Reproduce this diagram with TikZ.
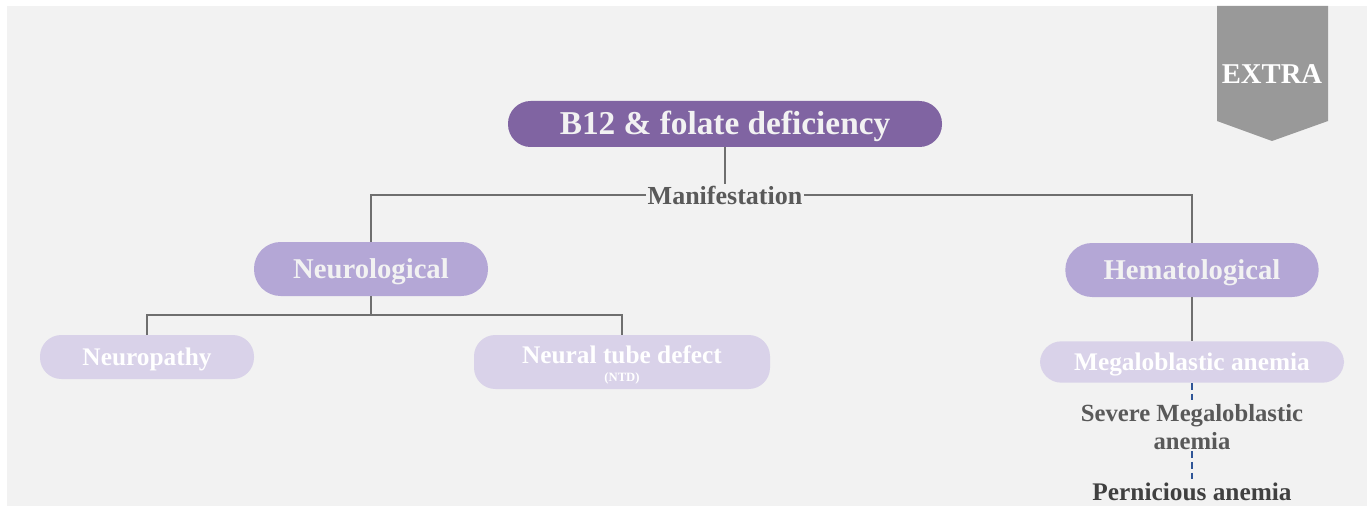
\documentclass[tikz,border=0pt]{standalone}
\usepackage{fontspec}
\setmainfont{Liberation Serif}
\usetikzlibrary{positioning}
\definecolor{bgrey}{HTML}{F2F2F2}
\definecolor{rootpurple}{HTML}{8064A2}
\definecolor{midlav}{HTML}{B4A7D6}
\definecolor{lightlav}{HTML}{D9D2E9}
\definecolor{linegrey}{HTML}{6F6F6F}
\definecolor{txtgrey}{HTML}{595959}
\definecolor{dashblue}{HTML}{2F5597}
\definecolor{bannergrey}{HTML}{999999}

\begin{document}
\begin{tikzpicture}[x=0.75pt, y=-0.75pt,
  pill/.style={rectangle, inner sep=0pt, align=center, text=bgrey,
               text depth=0pt, font=\bfseries},
  rootpill/.style={pill, fill=rootpurple, minimum width=325.5pt,
                   minimum height=34.5pt, rounded corners=17pt,
                   text height=16.5pt,
                   font=\fontsize{25}{28}\selectfont\bfseries},
  midpill/.style={pill, fill=midlav, minimum height=40.5pt,
                  rounded corners=20pt, text height=14.2pt,
                  font=\fontsize{21.5}{24}\selectfont\bfseries},
  leafpill/.style={pill, fill=lightlav, rounded corners=16pt, text=white,
                   text height=12.5pt,
                   font=\fontsize{19}{21}\selectfont\bfseries},
  conn/.style={line width=1.3pt, linegrey},
  dconn/.style={line width=1.3pt, dashblue, dash pattern=on 5pt off 3pt},
  plain/.style={align=center, inner sep=1pt, text=txtgrey,
                font=\fontsize{18.5}{21}\selectfont\bfseries}
]
\useasboundingbox (0,0) rectangle (1367,506);
% ----- background -----
\fill[bgrey] (7,6) rectangle (1367,506);
% ----- banner -----
\fill[bannergrey] (1217,6) -- (1328,6) -- (1328,121) -- (1272,141)
  -- (1217,121) -- cycle;
\node[text=white, font=\fontsize{21.5}{24}\selectfont\bfseries] (extra)
  at (1272,74) {EXTRA};
% ----- root -----
\node[rootpill] (root) at (725,124) {B12 \& folate deficiency};
\node[fill=bgrey, inner sep=1pt, text=txtgrey,
      font=\fontsize{19.5}{22}\selectfont\bfseries] (manif)
  at (725,195) {Manifestation};
\draw[conn] (root) -- (manif);
% ----- first level -----
\node[midpill, minimum width=175.5pt] (neuro) at (371,269) {Neurological};
\node[midpill, minimum width=190pt] (hema) at (1192,270) {Hematological};
\draw[conn] (manif) -| (neuro);
\draw[conn] (manif) -| (hema);
% ----- neurological branch -----
\coordinate (nsplit) at (371,315);
\node[leafpill, minimum width=160.5pt, minimum height=33pt] (neuropathy)
  at (147,357) {Neuropathy};
\node[leafpill, minimum width=222pt, minimum height=40.5pt,
      text height=28.9pt, text depth=0pt] (ntd)
  at (622,362) {Neural tube defect\\[-7.5pt]{\fontsize{9.5}{10}\selectfont (NTD)}};
\draw[conn] (neuro) -- (nsplit);
\draw[conn] (nsplit) -| (neuropathy);
\draw[conn] (nsplit) -| (ntd);
% ----- hematological branch -----
\node[leafpill, minimum width=228pt, minimum height=31pt] (mega)
  at (1192,362) {Megaloblastic anemia};
\draw[conn] (hema) -- (mega);
\node[plain] (severe) at (1192,427) {Severe Megaloblastic\\anemia};
\node[plain, text=black!75, font=\fontsize{19}{21}\selectfont\bfseries]
  (pern) at (1192,492) {Pernicious anemia};
\draw[dconn] (mega) -- (severe);
\draw[dconn] (severe) -- (pern);
\end{tikzpicture}
\end{document}
